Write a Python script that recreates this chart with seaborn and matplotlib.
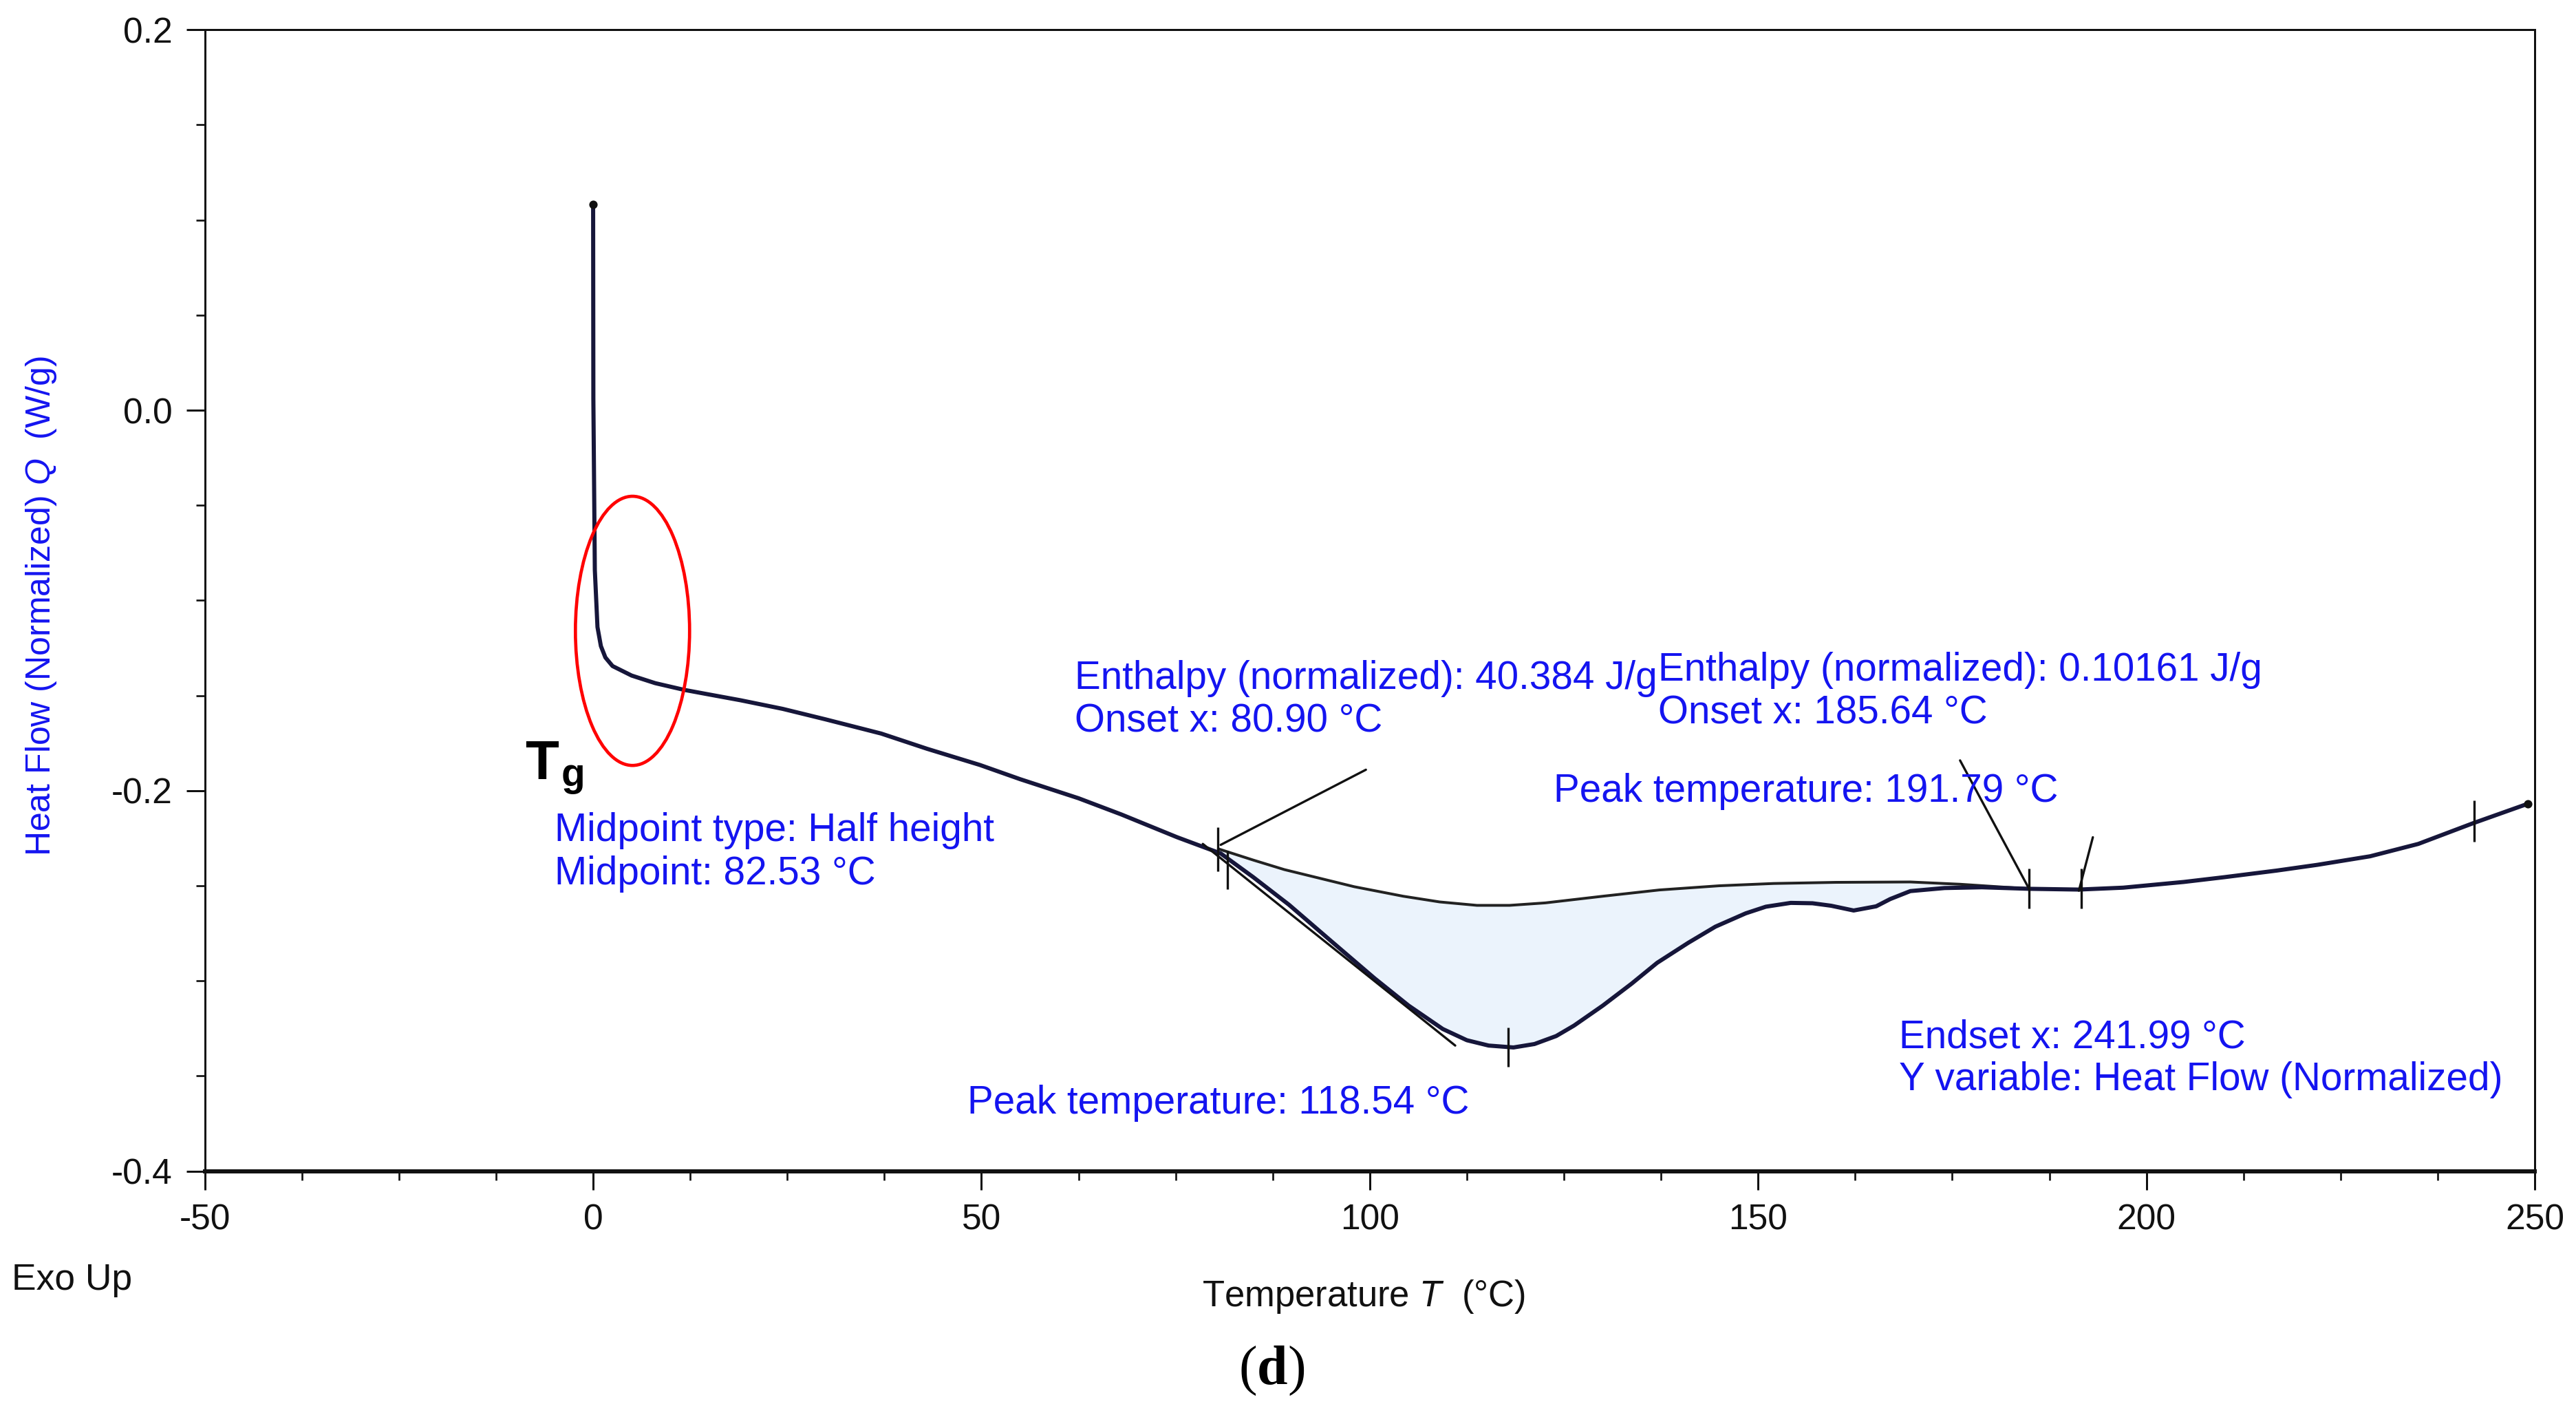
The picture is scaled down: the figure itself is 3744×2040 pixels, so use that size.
import numpy as np
import pandas as pd
import matplotlib
matplotlib.use("Agg")
import matplotlib.pyplot as plt
from matplotlib.patches import Ellipse
from matplotlib.ticker import MultipleLocator, FormatStrFormatter
import seaborn as sns

# ---------------- data ----------------
temp = [0.0, 0.03, 0.22, 0.56, 1.0, 1.58, 2.5, 4.96, 8.0, 11.7, 15.0, 19.0, 24.4, 29.9,
        37.1, 43.0, 49.8, 55.0, 62.5, 68.0, 75.2, 80.8, 85.0, 89.6, 95.0, 100.6, 105.0,
        109.4, 112.5, 115.3, 118.5, 121.2, 124.0, 126.3, 130.0, 133.7, 137.0, 141.0, 144.5,
        148.4, 151.0, 154.2, 157.0, 159.4, 162.3, 165.2, 167.0, 169.6, 174.0, 178.8, 184.9,
        191.3, 197.0, 204.8, 210.0, 216.8, 222.0, 228.8, 235.0, 242.0, 249.1]
heat = [0.108, 0.006, -0.084, -0.114, -0.124, -0.130, -0.1345, -0.1395, -0.1435, -0.147,
        -0.1495, -0.1525, -0.157, -0.1625, -0.170, -0.178, -0.1865, -0.194, -0.204, -0.2125,
        -0.2245, -0.2330, -0.2455, -0.2600, -0.2790, -0.2986, -0.3130, -0.3253, -0.3312,
        -0.3340, -0.3350, -0.3332, -0.3290, -0.3235, -0.3130, -0.3015, -0.2905, -0.2800,
        -0.2715, -0.2645, -0.2610, -0.2590, -0.2592, -0.2605, -0.2630, -0.2608, -0.2570,
        -0.2528, -0.2512, -0.2508, -0.2516, -0.2520, -0.2510, -0.2480, -0.2455, -0.2420,
        -0.2390, -0.2345, -0.2280, -0.2172, -0.2069]

base_temp = [80.5, 85.0, 89.0, 93.3, 98.0, 104.3, 109.0, 113.8, 118.0, 122.6, 130.0,
             137.3, 145.0, 152.0, 160.0, 169.6, 176.0, 184.9]
base_heat = [-0.2306, -0.2365, -0.2415, -0.2458, -0.2505, -0.2555, -0.2585, -0.2603,
             -0.2603, -0.2590, -0.2555, -0.2522, -0.2500, -0.2488, -0.2482, -0.2480,
             -0.2492, -0.2516]

# tangent and leader lines (analysis construction lines)
tangent_T = [78.5, 111.0]
tangent_Q = [-0.228, -0.334]
leader1_T = [99.5, 80.8]
leader1_Q = [-0.189, -0.2285]
leader2_T = [176.0, 184.9]
leader2_Q = [-0.1841, -0.2517]
leader3_T = [193.1, 191.3]
leader3_Q = [-0.2245, -0.2526]

# vertical marker ticks: (T, Q_low, Q_high)
marks_T = [80.4, 81.7, 117.8, 184.9, 191.6, 242.2]
marks_lo = [-0.2423, -0.2517, -0.3450, -0.2619, -0.2619, -0.2268]
marks_hi = [-0.2194, -0.2314, -0.3247, -0.2409, -0.2409, -0.2051]

x_ticks = [-50, 0, 50, 100, 150, 200, 250]
y_ticks = [-0.4, -0.2, 0.0, 0.2]

# ---------------- style ----------------
sns.set_theme(style="ticks")
plt.rcParams["font.family"] = ["Liberation Sans", "DejaVu Sans"]
plt.rcParams["axes.unicode_minus"] = False
plt.rcParams["mathtext.fontset"] = "custom"
plt.rcParams["mathtext.it"] = "Liberation Sans:italic"
plt.rcParams["mathtext.rm"] = "Liberation Serif"
plt.rcParams["mathtext.bf"] = "Liberation Serif:bold"

BLUE = "#1414F0"
CURVE = "#16163a"

fig = plt.figure(figsize=(15.6, 8.5), dpi=240)
ax = fig.add_axes([0.0795, 0.16588, 0.9045, 0.81294])

df = pd.DataFrame({"T": temp, "Q": heat})
base_df = pd.DataFrame({"T": base_temp, "Q": base_heat})

# fill between peak and baseline
T_arr = np.array(temp)
Q_arr = np.array(heat)
sel = (T_arr >= base_temp[0]) & (T_arr <= base_temp[-1])
Tf = np.concatenate([[base_temp[0]], T_arr[sel], [base_temp[-1]]])
Qf = np.concatenate([[np.interp(base_temp[0], T_arr, Q_arr)], Q_arr[sel],
                     [np.interp(base_temp[-1], T_arr, Q_arr)]])
Bf = np.interp(Tf, base_temp, base_heat)
ax.fill_between(Tf, Qf, Bf, color="#EBF3FC", lw=0, zorder=1)

sns.lineplot(data=base_df, x="T", y="Q", ax=ax, color="#222222", lw=1.2,
             sort=False, estimator=None, zorder=3)
sns.lineplot(data=df, x="T", y="Q", ax=ax, color=CURVE, lw=1.8,
             sort=False, estimator=None, zorder=4)
ax.scatter([temp[0], temp[-1]], [heat[0], heat[-1]], s=7, color="#111111", zorder=5)

for xs, ys in [(tangent_T, tangent_Q), (leader1_T, leader1_Q),
               (leader2_T, leader2_Q), (leader3_T, leader3_Q)]:
    ax.plot(xs, ys, color="#111111", lw=1.0, zorder=4)
ax.vlines(marks_T, marks_lo, marks_hi, color="#111111", lw=1.0, zorder=5)

# red ellipse around Tg region
ax.add_patch(Ellipse((5.07, -0.116), 14.7, 0.1415, fill=False,
                     edgecolor="#FF0000", lw=1.4, zorder=6))

# Tg label
ax.text(-8.8, -0.194, "T", fontsize=24, fontweight="bold", color="black",
        ha="left", va="baseline")
ax.text(-4.1, -0.1975, "g", fontsize=17, fontweight="bold", color="black",
        ha="left", va="baseline")

# blue annotation texts
fs = 17
notes = [
    (-4.93, -0.2211, "Midpoint type: Half height"),
    (-4.93, -0.2437, "Midpoint: 82.53 °C"),
    (62.05, -0.1412, "Enthalpy (normalized): 40.384 J/g"),
    (62.05, -0.1638, "Onset x: 80.90 °C"),
    (137.1, -0.1369, "Enthalpy (normalized): 0.10161 J/g"),
    (137.1, -0.1595, "Onset x: 185.64 °C"),
    (123.7, -0.2003, "Peak temperature: 191.79 °C"),
    (48.23, -0.3644, "Peak temperature: 118.54 °C"),
    (168.1, -0.3297, "Endset x: 241.99 °C"),
    (168.1, -0.3522, "Y variable: Heat Flow (Normalized)"),
]
for x, y, s in notes:
    ax.text(x, y, s, color=BLUE, fontsize=fs, ha="left", va="center", zorder=7)

# axes setup
ax.set_xlim(-50, 250)
ax.set_ylim(-0.4, 0.2)
ax.set_xticks(x_ticks)
ax.set_yticks(y_ticks)
ax.xaxis.set_minor_locator(MultipleLocator(12.5))
ax.yaxis.set_minor_locator(MultipleLocator(0.05))
ax.yaxis.set_major_formatter(FormatStrFormatter("%.1f"))
ax.tick_params(axis="both", which="major", direction="out", length=8, width=0.9,
               labelsize=15.5, colors="#111111", pad=6)
ax.tick_params(axis="both", which="minor", direction="out", length=4, width=0.8,
               colors="#111111")
for side in ["left", "top", "right"]:
    ax.spines[side].set_linewidth(0.9)
    ax.spines[side].set_color("#111111")
ax.spines["bottom"].set_linewidth(1.8)
ax.spines["bottom"].set_color("#111111")
ax.grid(False)

ax.set_ylabel("Heat Flow (Normalized) $\\mathit{Q}$  (W/g)", color=BLUE, fontsize=15)
ax.yaxis.set_label_coords(-0.0702, 0.495)
ax.yaxis.label.set_va("center")
ax.set_xlabel("Temperature $\\mathit{T}$  (°C)", color="#111111", fontsize=15.8)
ax.xaxis.set_label_coords(0.4975, -0.11)
ax.xaxis.label.set_va("center")

fig.text(0.0045, 0.088, "Exo Up", fontsize=16, color="#111111", ha="left", va="center")
fig.text(0.4936, 0.0235, "$\\mathrm{(}\\mathbf{d}\\mathrm{)}$", fontsize=24,
         color="black", ha="center", va="center")

fig.savefig("out.png", dpi=240)
